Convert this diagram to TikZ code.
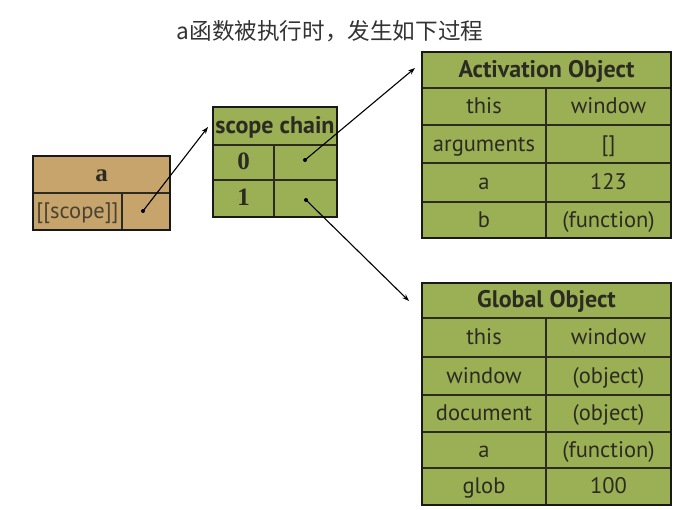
\documentclass[tikz,border=0pt]{standalone}
\usepackage{fontspec}
\setmainfont{PT Sans}
\newfontfamily\cjk{Noto Sans CJK SC}
\newfontfamily\serifb{Liberation Serif}
\usetikzlibrary{arrows.meta}
\definecolor{gfill}{HTML}{9BAF55}
\definecolor{bfill}{HTML}{C6A46C}
\definecolor{ink}{HTML}{2B2B22}
\definecolor{titlec}{HTML}{333333}
\begin{document}
\begin{tikzpicture}[x=1pt,y=-1pt,
  gcell/.style={draw=ink, line width=1.2pt, fill=gfill, inner sep=0pt, text=ink, text height=18pt, text depth=4pt, font=\fontsize{22.5}{22.5}\selectfont},
  bcell/.style={draw=ink, line width=1.2pt, fill=bfill, inner sep=0pt, text=ink!80!bfill, text height=18pt, text depth=4pt, font=\fontsize{22.5}{22.5}\selectfont},
  hdr/.style={font=\fontsize{24}{24}\selectfont\bfseries},
  serhdr/.style={font=\fontsize{25}{25}\selectfont\serifb\bfseries, text=ink},
  outer/.style={draw=black!90, line width=2.6pt, inner sep=0pt, fill=none},
  dotn/.style={circle, fill=black, inner sep=0pt, minimum size=4pt},
  ptr/.style={-{Stealth[length=7pt,width=5pt]}, line width=1.1pt, shorten <=-1pt}]
\useasboundingbox (0,0) rectangle (683,509);

\node[text=titlec, font=\cjk\fontsize{22.6}{23}\selectfont] (title) at (330,31) {a函数被执行时，发生如下过程};

% box a
\node[bcell, serhdr, minimum width=137, minimum height=37] (ahdr) at (101.5,174.5) {a};
\node[bcell, minimum width=89, minimum height=37] (ascope) at (77.5,211.5) {[[scope]]};
\node[bcell, minimum width=48, minimum height=37] (aptr) at (146,211.5) {};
\node[outer, minimum width=137, minimum height=74] (abox) at (101.5,193) {};

% scope chain
\node[gcell, hdr, minimum width=124, minimum height=38] (schdr) at (275,126) {scope chain};
\node[gcell, serhdr, minimum width=61, minimum height=35] (sc0) at (243.5,162.5) {0};
\node[gcell, minimum width=63, minimum height=35] (sc0p) at (305.5,162.5) {};
\node[gcell, serhdr, minimum width=61, minimum height=37] (sc1) at (243.5,198.5) {1};
\node[gcell, minimum width=63, minimum height=37] (sc1p) at (305.5,198.5) {};
\node[outer, minimum width=124, minimum height=110] (scbox) at (275,162) {};

% Activation Object
\node[gcell, hdr, minimum width=249, minimum height=36] (aohdr) at (546.5,70) {Activation Object};
\node[gcell, minimum width=124, minimum height=37] (ao1l) at (484,106.5) {this};
\node[gcell, minimum width=125, minimum height=37] (ao1r) at (608.5,106.5) {window};
\node[gcell, minimum width=124, minimum height=38] (ao2l) at (484,144) {arguments};
\node[gcell, minimum width=125, minimum height=38] (ao2r) at (608.5,144) {[]};
\node[gcell, minimum width=124, minimum height=39] (ao3l) at (484,182.5) {a};
\node[gcell, minimum width=125, minimum height=39] (ao3r) at (608.5,182.5) {123};
\node[gcell, minimum width=124, minimum height=36] (ao4l) at (484,220) {b};
\node[gcell, minimum width=125, minimum height=36] (ao4r) at (608.5,220) {(function)};
\node[outer, minimum width=249, minimum height=186] (aobox) at (546.5,145) {};

% Global Object
\node[gcell, hdr, minimum width=249, minimum height=35] (gohdr) at (546.5,300.5) {Global Object};
\node[gcell, minimum width=124, minimum height=39] (go1l) at (484,337.5) {this};
\node[gcell, minimum width=125, minimum height=39] (go1r) at (608.5,337.5) {window};
\node[gcell, minimum width=124, minimum height=38] (go2l) at (484,376) {window};
\node[gcell, minimum width=125, minimum height=38] (go2r) at (608.5,376) {(object)};
\node[gcell, minimum width=124, minimum height=37] (go3l) at (484,413.5) {document};
\node[gcell, minimum width=125, minimum height=37] (go3r) at (608.5,413.5) {(object)};
\node[gcell, minimum width=124, minimum height=36] (go4l) at (484,450) {a};
\node[gcell, minimum width=125, minimum height=36] (go4r) at (608.5,450) {(function)};
\node[gcell, minimum width=124, minimum height=37] (go5l) at (484,486.5) {glob};
\node[gcell, minimum width=125, minimum height=37] (go5r) at (608.5,486.5) {100};
\node[outer, minimum width=249, minimum height=222] (gobox) at (546.5,394) {};

% pointers
\node[dotn] (d0) at (143,211) {};
\node[dotn] (d1) at (305,160) {};
\node[dotn] (d2) at (306,200) {};
\coordinate (t0) at (208,127);
\coordinate (t1) at (415,68);
\coordinate (t2) at (409,301);
\draw[ptr] (d0.center) -- (t0);
\draw[ptr] (d1.center) -- (t1);
\draw[ptr] (d2.center) -- (t2);
\end{tikzpicture}
\end{document}
